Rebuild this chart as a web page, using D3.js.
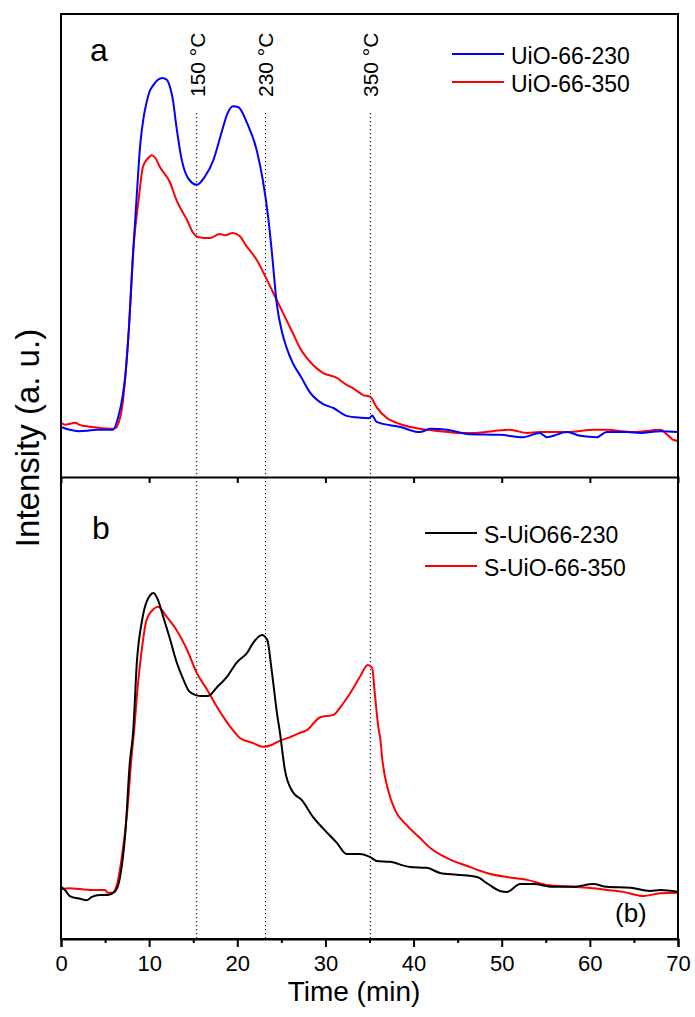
<!DOCTYPE html>
<html>
<head>
<meta charset="utf-8">
<script src="https://cdnjs.cloudflare.com/ajax/libs/d3/7.8.5/d3.min.js"></script>
<style>
  body { margin: 0; background: #fff; }
  svg { display: block; font-family: "Liberation Sans", Arial, sans-serif; }
</style>
</head>
<body>
<div id="chart"></div>
<script>
// Panel a: UiO-66-230 (blue) and UiO-66-350 (red)
var timeA230 = [0, 1, 2, 3, 4, 5, 5.9, 6.5, 7.0, 7.3, 7.7, 8.2, 8.6, 9.0, 9.4, 9.7, 10.0, 10.5, 11.0, 11.5, 12.0, 12.4, 12.7, 13.1, 13.7, 14.4, 15.4, 16.3, 17.3, 18.2, 18.9, 19.5, 20.1, 21.1, 22.2, 22.9, 23.5, 23.9, 24.5, 25.1, 25.6, 26.3, 27.3, 28.2, 29.7, 30.9, 32.4, 34.0, 35.0, 35.3, 35.8, 38.5, 40.7, 41.9, 43.8, 46.1, 49.8, 52.4, 54.3, 55.1, 57.4, 58.9, 60.8, 61.9, 64.2, 65.7, 68, 70];
var valA230 = [10.8, 10.2, 9.9, 10.0, 10.2, 10.2, 10.2, 13, 17.5, 22, 32, 49, 61, 72, 78, 80.8, 83, 84.7, 85.8, 86.2, 85.8, 84, 81.4, 75.6, 68.5, 64.6, 63.1, 64.8, 68.5, 74.3, 78.6, 80.1, 79.9, 76.5, 70.6, 64.1, 56.2, 49, 37.1, 31.1, 27.9, 24.6, 21.4, 18.4, 15.8, 14.9, 13.2, 12.8, 12.7, 13.3, 11.9, 10.8, 9.7, 10.4, 10.2, 9.3, 9.1, 8.6, 9.5, 8.6, 9.7, 8.9, 8.6, 9.7, 9.7, 9.5, 9.9, 9.7];

var timeA350 = [0, 0.5, 1.0, 1.6, 2.2, 2.7, 3.5, 4.4, 5.0, 5.6, 6.1, 6.5, 7.0, 7.3, 7.7, 8.2, 8.8, 9.3, 9.9, 10.3, 10.7, 11.2, 12.4, 13.1, 14.3, 15.0, 15.6, 16.9, 18.0, 18.6, 19.5, 20.3, 21.1, 21.4, 22.2, 23.1, 24.1, 25.2, 26.3, 27.1, 28.6, 29.7, 31.3, 32.4, 33.1, 34.3, 35.1, 35.8, 37.0, 38.1, 39.2, 40.7, 43.0, 45.3, 46.7, 49.0, 50.9, 52.9, 54.3, 57.4, 60.4, 61.9, 64.9, 68.0, 68.8, 69.5, 70];
var valA350 = [11.7, 11.3, 11.5, 11.7, 11.2, 11.0, 10.8, 10.6, 10.5, 10.4, 10.5, 11.5, 16, 21.6, 32, 49, 59.8, 67, 68.9, 69.5, 68.9, 67, 63.5, 59.8, 55.5, 52.7, 51.8, 51.6, 52.5, 52.2, 52.7, 52.0, 49.7, 49.0, 46.9, 43.6, 39.7, 35.4, 31.1, 27.9, 24.2, 22.5, 21.4, 19.9, 19.2, 17.7, 17.3, 15.1, 12.7, 11.7, 11.0, 10.4, 9.9, 9.5, 9.5, 9.9, 10.2, 9.5, 9.7, 9.7, 10.2, 10.2, 9.7, 10.2, 9.1, 8.0, 7.8];

// Panel b: S-UiO66-230 (black) and S-UiO-66-350 (red)
var timeB230 = [0, 0.5, 1.0, 2.2, 2.9, 3.5, 4.4, 5.3, 6.1, 6.7, 7.3, 7.8, 8.2, 8.6, 9.2, 9.7, 10.5, 11.0, 11.6, 12.4, 13.1, 13.9, 14.6, 15.8, 16.7, 17.7, 18.8, 20.0, 21.1, 21.8, 22.8, 23.4, 23.9, 24.5, 24.8, 25.4, 26.3, 27.3, 28.6, 29.7, 31.3, 32.4, 33.9, 35.1, 35.8, 37.3, 39.6, 41.5, 43.0, 44.9, 47.2, 48.3, 49.8, 50.6, 52.1, 53.6, 55.8, 58.1, 60.4, 61.9, 64.6, 66.8, 68.0, 70];
var valB230 = [11.3, 10.5, 9.3, 8.7, 8.4, 9.1, 9.5, 9.5, 10.2, 13.4, 23, 38, 45.2, 59.7, 69, 72.9, 74.9, 73.4, 69.7, 64.7, 60, 56.1, 53.5, 52.6, 52.6, 54.5, 56.7, 60, 61.9, 64.1, 65.8, 64.7, 58.2, 48.9, 45.2, 36.6, 31.8, 30.1, 26.4, 24, 20.8, 18.4, 18.4, 17.7, 16.9, 16.7, 15.6, 15.4, 14.3, 13.9, 13.4, 12.1, 10.4, 10.2, 11.9, 11.9, 11.3, 11.3, 11.9, 11.3, 11.1, 10.4, 10.6, 10.2];

var timeB350 = [0, 1.0, 2.2, 3.9, 4.4, 5.0, 5.3, 5.8, 6.4, 6.9, 7.5, 8.0, 8.3, 8.6, 9.2, 9.7, 10.5, 11.0, 12.0, 13.1, 14.3, 15.4, 16.6, 17.7, 18.8, 19.5, 20.3, 21.8, 22.9, 23.9, 24.8, 26.0, 27.1, 27.9, 29.4, 30.9, 31.7, 32.8, 33.9, 34.8, 35.3, 35.6, 36.0, 36.2, 36.5, 37.1, 37.9, 39.2, 40.7, 41.9, 43.8, 46.1, 48.3, 50.6, 52.9, 55.1, 58.1, 61.2, 63.8, 66.1, 68.0, 70];
var valB350 = [10.8, 11.0, 10.8, 10.6, 10.6, 10.6, 10.0, 10.0, 12.1, 17.7, 27.3, 39.4, 45.2, 52.4, 63.2, 69, 71.4, 71.9, 69.7, 66.9, 62.6, 57.6, 53.9, 50.2, 47, 45.2, 43.5, 42.4, 41.6, 42.0, 42.9, 43.7, 44.6, 45.2, 48, 48.5, 50.2, 53.2, 56.7, 59.3, 58.7, 53.2, 45.9, 43.7, 38.1, 32.3, 27.9, 24.7, 21.9, 19.7, 17.5, 15.8, 14.3, 13.4, 12.8, 11.7, 11.3, 10.8, 10.2, 9.3, 9.9, 10.0];

// Temperature markers
var markerTimes = [15.4, 23.2, 35.1];
var markerLabels = ["150 °C", "230 °C", "350 °C"];

var xTicks = [0, 10, 20, 30, 40, 50, 60, 70];
var xMinorTicks = [5, 15, 25, 35, 45, 55, 65];

var width = 695;
var height = 1017;
var left = 61, right = 678;
var topA = 14, mid = 477, bottomB = 939;

var svg = d3.select("#chart").append("svg")
    .attr("width", width)
    .attr("height", height);

var x = d3.scaleLinear().domain([0, 70]).range([left, right]);
var yA = d3.scaleLinear().domain([0, 100]).range([mid, topA]);
var yB = d3.scaleLinear().domain([0, 100]).range([bottomB, mid]);

function zip(t, v) {
    return t.map(function(d, i) { return [d, v[i]]; });
}

// dotted temperature lines run through both panels
svg.selectAll(".marker")
    .data(markerTimes)
  .enter().append("line")
    .attr("class", "marker")
    .attr("x1", function(d) { return x(d); })
    .attr("x2", function(d) { return x(d); })
    .attr("y1", 113)
    .attr("y2", bottomB)
    .style("stroke", "#000")
    .style("stroke-width", 1)
    .style("stroke-dasharray", "1.2,2.8");

svg.selectAll(".markerLabel")
    .data(markerTimes)
  .enter().append("text")
    .attr("class", "markerLabel")
    .attr("transform", function(d) { return "translate(" + (x(d) + 8) + ",97) rotate(-90)"; })
    .style("font-size", "21px")
    .text(function(d, i) { return markerLabels[i]; });

function drawLine(data, yScale, color) {
    var line = d3.line()
        .curve(d3.curveMonotoneX)
        .x(function(d) { return x(d[0]); })
        .y(function(d) { return yScale(d[1]); });
    svg.append("path")
        .datum(data)
        .attr("d", line)
        .style("fill", "none")
        .style("stroke", color)
        .style("stroke-width", 2)
        .style("stroke-linejoin", "round");
}

drawLine(zip(timeA350, valA350), yA, "#ff0000");
drawLine(zip(timeA230, valA230), yA, "#0000ff");
drawLine(zip(timeB350, valB350), yB, "#ff0000");
drawLine(zip(timeB230, valB230), yB, "#000000");

// frame and divider
svg.append("rect")
    .attr("x", left).attr("y", topA)
    .attr("width", right - left).attr("height", bottomB - topA)
    .style("fill", "none").style("stroke", "#000").style("stroke-width", 2);

// divider axis: ticks hang down into panel b, no labels
var midAxis = svg.append("g")
    .attr("transform", "translate(0," + mid + ")")
    .call(d3.axisBottom(x).tickValues(xTicks.slice(1, -1)).tickSize(6).tickFormat(""));
midAxis.select(".domain").style("stroke-width", 2);
midAxis.selectAll("line").style("stroke-width", 2);

var minorAxis = svg.append("g")
    .attr("transform", "translate(0," + bottomB + ")")
    .call(d3.axisBottom(x).tickValues(xMinorTicks).tickSize(4).tickFormat(""));
minorAxis.select(".domain").remove();
minorAxis.selectAll("line").style("stroke-width", 2);

var xAxis = svg.append("g")
    .attr("transform", "translate(0," + bottomB + ")")
    .call(d3.axisBottom(x).tickValues(xTicks).tickSize(8).tickPadding(8));
xAxis.select(".domain").style("stroke-width", 2);
xAxis.selectAll("line").style("stroke-width", 2);
xAxis.selectAll("text")
    .style("font-size", "22px")
    .style("font-family", "Liberation Sans, Arial, sans-serif")
    .style("fill", "#000");

// axis titles
svg.append("text")
    .attr("x", 354).attr("y", 1001)
    .attr("text-anchor", "middle")
    .style("font-size", "28px")
    .text("Time (min)");

svg.append("text")
    .attr("transform", "translate(39,438) rotate(-90)")
    .attr("text-anchor", "middle")
    .style("font-size", "33px")
    .text("Intensity (a. u.)");

// panel letters
svg.append("text").attr("x", 90).attr("y", 61).style("font-size", "32px").text("a");
svg.append("text").attr("x", 92).attr("y", 539).style("font-size", "32px").text("b");
svg.append("text").attr("x", 615).attr("y", 922).style("font-size", "26px").text("(b)");

// legends
function legend(items, colors, lx, ly, gap) {
    items.forEach(function(name, i) {
        var yy = ly + i * gap;
        svg.append("line")
            .attr("x1", lx).attr("x2", lx + 52)
            .attr("y1", yy).attr("y2", yy)
            .style("stroke", colors[i]).style("stroke-width", 2);
        svg.append("text")
            .attr("x", lx + 59).attr("y", yy + 10)
            .style("font-size", "23px")
            .text(name);
    });
}

legend(["UiO-66-230", "UiO-66-350"], ["#0000ff", "#ff0000"], 452, 54, 28);
legend(["S-UiO66-230", "S-UiO-66-350"], ["#000000", "#ff0000"], 425, 533, 33);
</script>
</body>
</html>
